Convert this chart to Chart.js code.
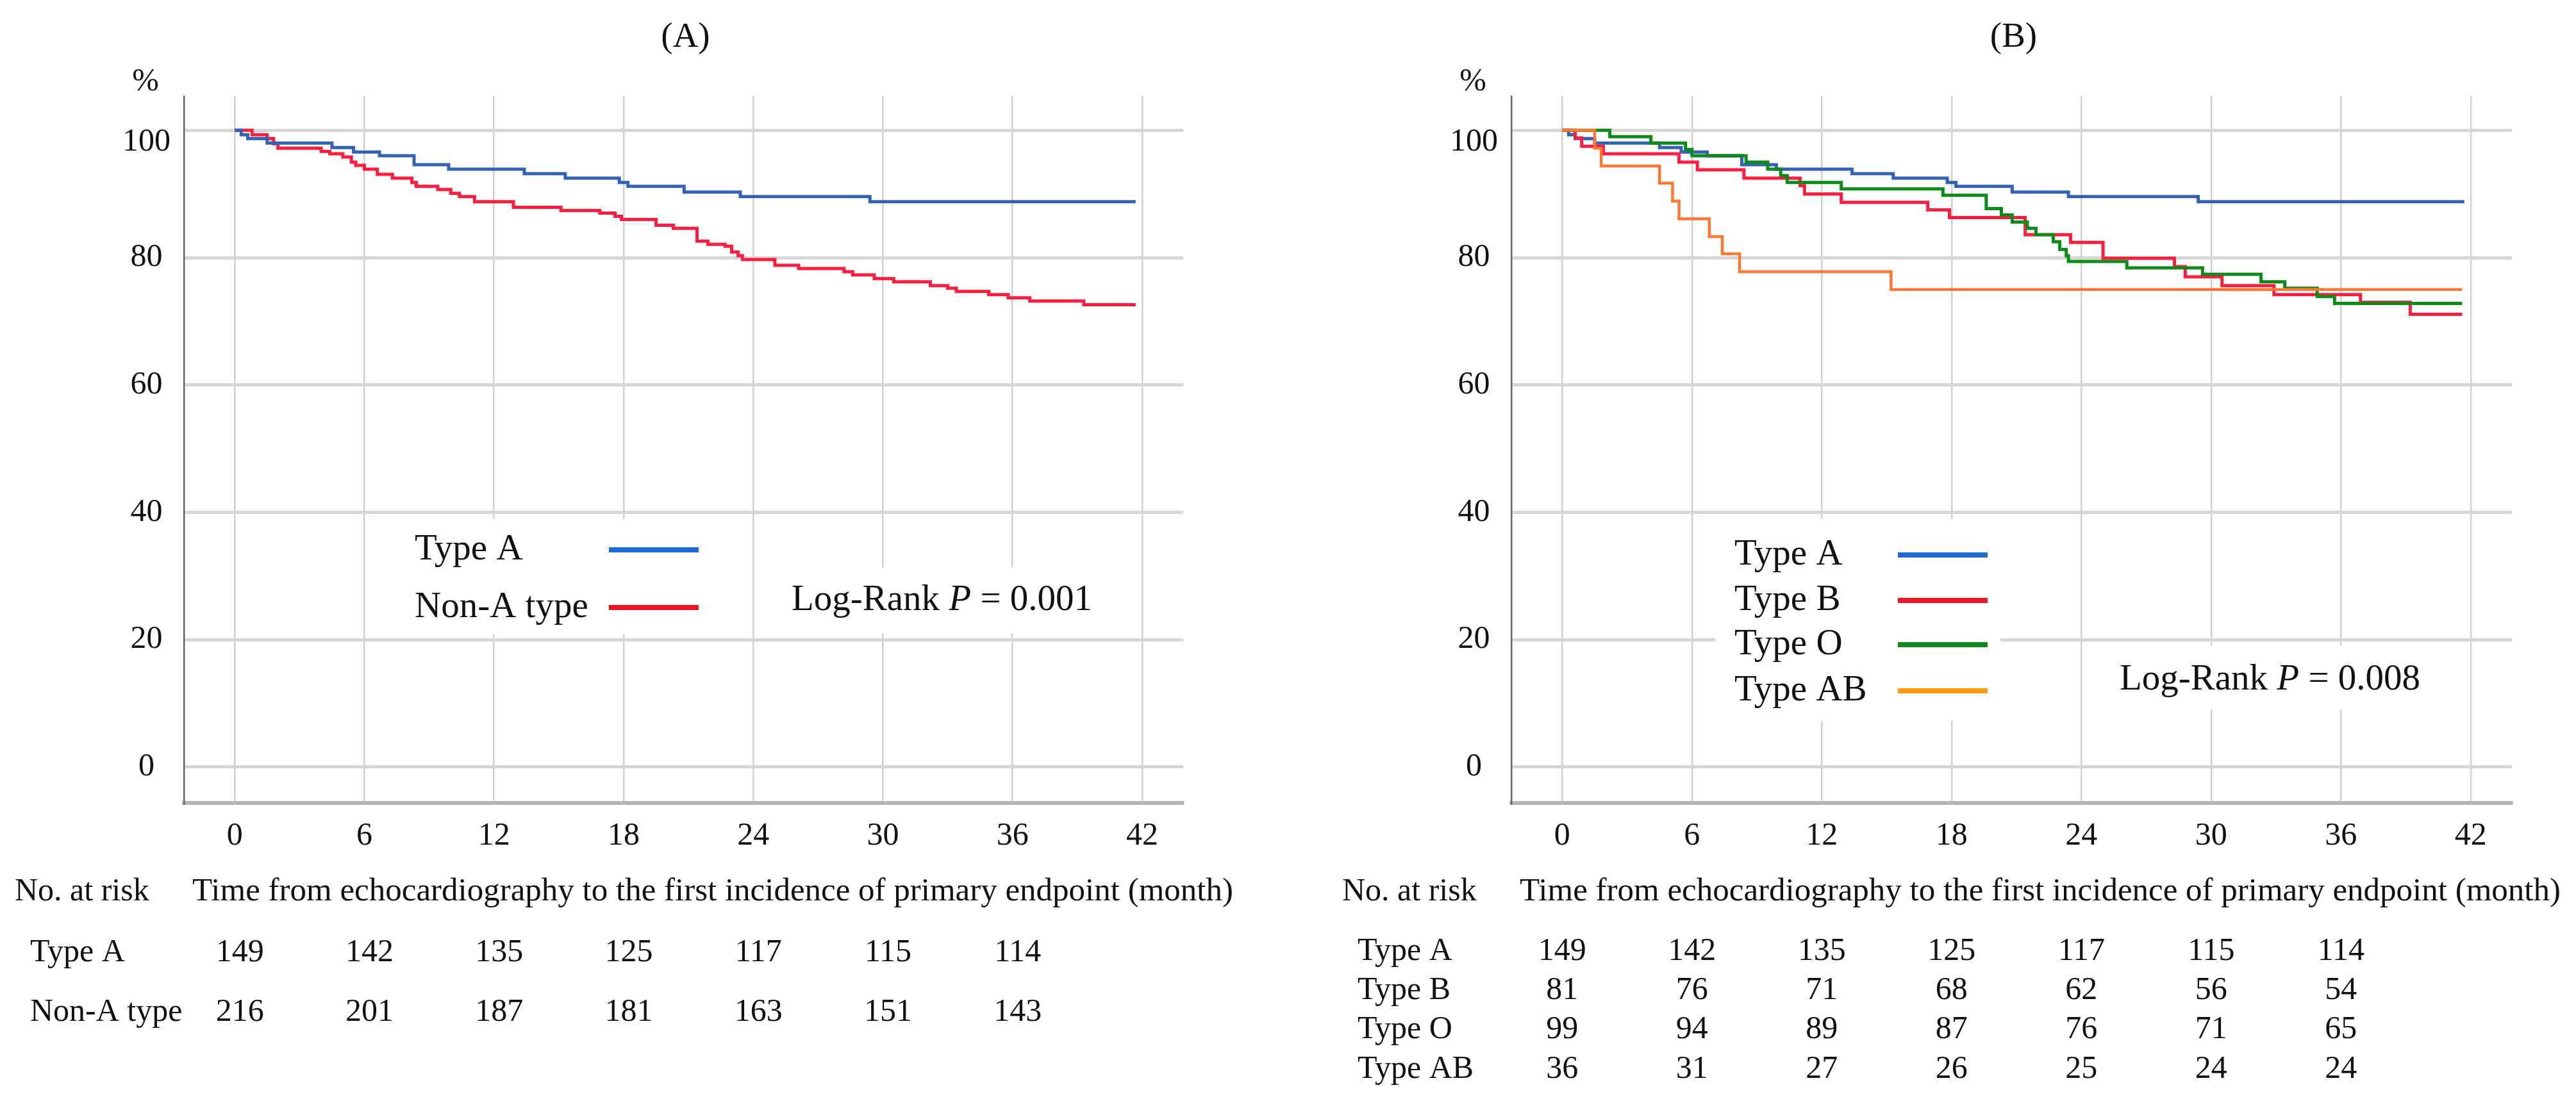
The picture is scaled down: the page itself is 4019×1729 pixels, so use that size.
<!DOCTYPE html>
<html>
<head>
<meta charset="utf-8">
<script src="https://cdn.jsdelivr.net/npm/chart.js@4.4.0/dist/chart.umd.min.js"></script>
<style>
  html, body { margin: 0; padding: 0; background: #fff; }
  #wrap { position: relative; width: 4019px; height: 1729px; }
  .panel { position: absolute; top: 0; height: 1729px; }
</style>
</head>
<body>
<div id="wrap">
  <div class="panel" style="left:0;width:2010px"><canvas id="chartA"></canvas></div>
  <div class="panel" style="left:2010px;width:2009px"><canvas id="chartB"></canvas></div>
</div>
<script>
// axis ticks
var monthTicks = [0, 6, 12, 18, 24, 30, 36, 42];
var percentTicks = [0, 20, 40, 60, 80, 100];
var riskMonths = [0, 6, 12, 18, 24, 30, 36];

// Kaplan-Meier steps: [month, % event-free]
var survTypeA = [[0,100],[0.3,99.3],[0.6,98.7],[1.5,98.0],[4.5,97.3],[5.5,96.6],[6.7,96.0],[8.3,94.6],[9.9,93.9],[13.4,93.2],[15.3,92.5],[17.8,91.8],[18.2,91.2],[20.8,90.3],[23.4,89.6],[29.4,88.8],[41.7,88.8]];
var survNonA = [[0,100],[0.8,99.3],[1.5,98.7],[1.8,97.9],[2.0,97.2],[4.0,96.7],[4.4,96.3],[5.0,95.8],[5.4,95.0],[5.6,94.5],[6.0,93.9],[6.6,93.1],[7.3,92.5],[8.2,91.8],[8.4,91.2],[9.4,90.7],[10.0,90.1],[10.4,89.6],[11.1,88.8],[12.9,87.9],[15.1,87.4],[16.9,87.0],[17.6,86.5],[17.9,86.0],[19.5,85.1],[20.3,84.6],[21.4,82.6],[21.9,82.1],[22.7,81.8],[23.0,80.9],[23.3,80.3],[23.5,79.7],[25.0,78.8],[26.1,78.3],[28.2,77.8],[28.6,77.3],[29.6,76.7],[30.5,76.2],[32.2,75.6],[33.0,75.2],[33.4,74.7],[34.9,74.2],[35.8,73.7],[36.8,73.2],[39.3,72.6],[41.7,72.6]];
var survTypeB = [[0,100],[0.6,98.8],[0.9,97.5],[1.9,96.3],[5.4,95.0],[6.25,93.8],[8.4,92.5],[11.0,91.3],[11.2,90.0],[12.9,88.7],[16.9,87.5],[17.9,86.3],[21.4,83.6],[23.5,82.4],[25.0,79.9],[28.3,78.6],[28.8,77.0],[30.5,75.6],[32.9,74.2],[36.9,73.0],[39.2,71.1],[41.6,71.1]];
var survTypeO = [[0,100],[2.2,99.0],[4.1,98.0],[5.7,97.0],[6.0,96.0],[8.5,95.0],[9.5,93.9],[10.1,92.9],[10.4,91.8],[12.9,90.8],[17.6,89.8],[19.6,87.7],[20.3,86.7],[20.8,85.6],[21.5,84.6],[21.9,83.6],[22.7,82.5],[23.0,81.3],[23.3,80.3],[23.4,79.4],[26.1,78.4],[29.6,77.4],[32.3,76.2],[33.4,75.2],[34.9,73.9],[35.7,72.8],[41.6,72.8]];
var survTypeAB = [[0,100],[1.5,97.2],[1.8,94.4],[4.5,91.7],[5.1,88.9],[5.4,86.1],[6.8,83.3],[7.4,80.6],[8.2,77.8],[15.2,75.0],[41.6,75.0]];

// numbers at risk
var riskTypeA = [149, 142, 135, 125, 117, 115, 114];
var riskNonA = [216, 201, 187, 181, 163, 151, 143];
var riskTypeB = [81, 76, 71, 68, 62, 56, 54];
var riskTypeO = [99, 94, 89, 87, 76, 71, 65];
var riskTypeAB = [36, 31, 27, 26, 25, 24, 24];

var SERIF = "'Liberation Serif', 'Times New Roman', serif";
var axisTitle = 'Time from echocardiography to the first incidence of primary endpoint (month)';

function toPoints(arr) {
    return arr.map(function(p) { return { x: p[0], y: p[1] }; });
}

function stepLine(label, arr, color, width) {
    return {
        label: label,
        data: toPoints(arr),
        borderColor: color,
        borderWidth: width || 5,
        stepped: 'before',
        pointRadius: 0,
        fill: false,
        tension: 0
    };
}

var decor = {
    id: 'decor',
    beforeDatasetsDraw: function(chart, args, o) {
        var ctx = chart.ctx;
        ctx.save();
        ctx.fillStyle = '#ffffff';
        o.boxes.forEach(function(b) { ctx.fillRect(b[0], b[1], b[2], b[3]); });
        ctx.restore();
    },
    afterDraw: function(chart, args, o) {
        var ctx = chart.ctx;
        var area = chart.chartArea;
        var xs = chart.scales.x;
        ctx.save();
        ctx.fillStyle = '#111';
        ctx.textBaseline = 'middle';

        // panel title and % sign
        ctx.font = '55px ' + SERIF;
        ctx.textAlign = 'center';
        ctx.fillText(o.title, (area.left + area.right) / 2 + 3, 59);
        ctx.font = '50px ' + SERIF;
        ctx.fillText('%', area.left - 60, 128);

        // legend
        ctx.font = '57px ' + SERIF;
        ctx.textAlign = 'left';
        o.legend.forEach(function(item) {
            ctx.fillStyle = '#111';
            ctx.fillText(item.text, o.legendX, item.y);
            ctx.fillStyle = item.color;
            ctx.fillRect(o.swatchX, item.y - 4, 140, 8);
        });

        // log-rank text with italic P
        ctx.fillStyle = '#111';
        var lx = o.logRank.x, ly = o.logRank.y;
        ctx.font = '57px ' + SERIF;
        ctx.fillText('Log-Rank ', lx, ly);
        lx += ctx.measureText('Log-Rank ').width;
        ctx.font = 'italic 57px ' + SERIF;
        ctx.fillText('P', lx, ly);
        lx += ctx.measureText('P').width;
        ctx.font = '57px ' + SERIF;
        ctx.fillText(' = ' + o.logRank.p, lx, ly);

        // number-at-risk table
        ctx.font = '50px ' + SERIF;
        ctx.fillText('No. at risk', area.left - 264, 1392);
        ctx.font = '51px ' + SERIF;
        ctx.fillText(axisTitle, area.left + 13, 1392);
        ctx.font = '50px ' + SERIF;
        o.table.forEach(function(row) {
            ctx.textAlign = 'left';
            ctx.fillText(row.label, area.left - 240, row.y);
            ctx.textAlign = 'center';
            row.values.forEach(function(v, i) {
                ctx.fillText(String(v), xs.getPixelForValue(riskMonths[i]) + o.tableShift, row.y);
            });
        });
        ctx.restore();
    }
};

function makePanel(id, datasets, axisWidth, padRight, decorOpts) {
    return new Chart(document.getElementById(id).getContext('2d'), {
        type: 'line',
        data: { datasets: datasets },
        plugins: [decor],
        options: {
            responsive: true,
            maintainAspectRatio: false,
            animation: false,
            devicePixelRatio: 1,
            layout: { padding: { top: 150, right: padRight, left: 0, bottom: 0 } },
            scales: {
                x: {
                    type: 'linear',
                    min: -2.35,
                    max: 43.9,
                    afterBuildTicks: function(scale) {
                        scale.ticks = monthTicks.map(function(v) { return { value: v }; });
                    },
                    afterFit: function(scale) { scale.height = 476; },
                    grid: { color: '#cfcfcf', lineWidth: 2.5, drawTicks: false },
                    border: { color: '#b5b5b5', width: 6 },
                    ticks: {
                        padding: 22,
                        color: '#111',
                        font: { family: SERIF, size: 50 },
                        maxRotation: 0
                    }
                },
                y: {
                    type: 'linear',
                    min: -5.64,
                    max: 105.37,
                    afterBuildTicks: function(scale) {
                        scale.ticks = percentTicks.map(function(v) { return { value: v }; });
                    },
                    afterFit: function(scale) { scale.width = axisWidth; },
                    grid: { color: '#d6d6d6', lineWidth: 5, drawTicks: false },
                    border: { color: '#666666', width: 2.5 },
                    ticks: {
                        padding: 21,
                        crossAlign: 'center',
                        color: '#111',
                        font: { family: SERIF, size: 50, lineHeight: 0.76 },
                        callback: function(v) { return v === 100 ? ['', '100'] : String(v); }
                    }
                }
            },
            plugins: {
                legend: { display: false },
                tooltip: { enabled: false },
                decor: decorOpts
            }
        }
    });
}

document.addEventListener('DOMContentLoaded', function() {
    makePanel('chartA', [
        stepLine('Type A', survTypeA, '#3162b3'),
        stepLine('Non-A type', survNonA, '#fb1d3f')
    ], 287, 164, {
        title: '(A)',
        boxes: [[615, 810, 497, 180], [1195, 885, 535, 103]],
        legendX: 647,
        swatchX: 950,
        legend: [
            { text: 'Type A', y: 858, color: '#1b6bd2' },
            { text: 'Non-A type', y: 948, color: '#ee1526' }
        ],
        logRank: { x: 1235, y: 937, p: '0.001' },
        tableShift: 8,
        table: [
            { label: 'Type A', y: 1487, values: riskTypeA },
            { label: 'Non-A type', y: 1580, values: riskNonA }
        ]
    });

    makePanel('chartB', [
        stepLine('Type AB', survTypeAB, '#ff7732', 4.5),
        stepLine('Type O', survTypeO, '#0d8a18'),
        stepLine('Type B', survTypeB, '#fb1d3f'),
        stepLine('Type A', survTypeA, '#3162b3')
    ], 348, 100, {
        title: '(B)',
        boxes: [[666, 810, 445, 315], [1280, 1007, 520, 100]],
        legendX: 696,
        swatchX: 951,
        legend: [
            { text: 'Type A', y: 866, color: '#1b6bd2' },
            { text: 'Type B', y: 937, color: '#ee1526' },
            { text: 'Type O', y: 1006, color: '#138a1f' },
            { text: 'Type AB', y: 1078, color: '#ff9a12' }
        ],
        logRank: { x: 1297, y: 1061, p: '0.008' },
        tableShift: 0,
        table: [
            { label: 'Type A', y: 1485, values: riskTypeA },
            { label: 'Type B', y: 1546, values: riskTypeB },
            { label: 'Type O', y: 1607, values: riskTypeO },
            { label: 'Type AB', y: 1669, values: riskTypeAB }
        ]
    });
});
</script>
</body>
</html>
